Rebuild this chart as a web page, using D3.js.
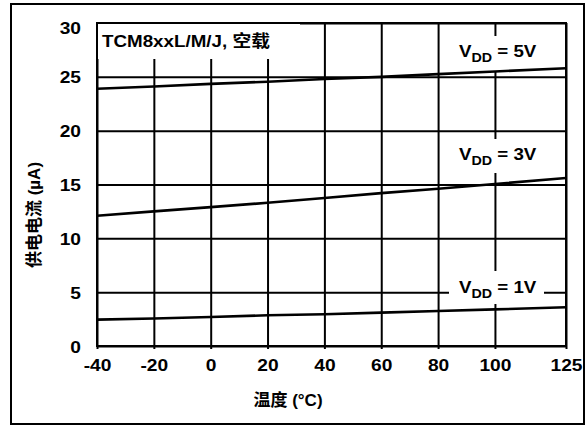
<!DOCTYPE html>
<html><head><meta charset="utf-8">
<script src="https://cdn.jsdelivr.net/npm/d3@7"></script>
<style>
html,body{margin:0;padding:0;background:#fff;}
text{font-family:"Liberation Sans",Arial,"Noto Sans CJK SC",sans-serif;font-weight:bold;fill:#000;}
</style></head>
<body>
<svg id="c" width="588" height="426"></svg>
<script>
const temps = [-40, -20, 0, 20, 40, 60, 80, 100, 125];
const xTickLabels = ["-40", "-20", "0", "20", "40", "60", "80", "100", "125"];
const yTicks = [0, 5, 10, 15, 20, 25, 30];
const vdd5 = [23.9, 24.1, 24.35, 24.55, 24.8, 25.0, 25.25, 25.5, 25.8];
const vdd3 = [12.1, 12.5, 12.9, 13.3, 13.75, 14.2, 14.6, 15.05, 15.6];
const vdd1 = [2.45, 2.55, 2.7, 2.85, 2.95, 3.1, 3.25, 3.4, 3.6];
const seriesLabels = ["5V", "3V", "1V"];
const title = "TCM8xxL/M/J, 空载";
const xTitle = "温度 (°C)";
const yTitle = "供电电流 (µA)";

const svg = d3.select("#c");
const L = 97, R = 566, T = 23, B = 346;
const SX = 1.13;
const x = d3.scaleLinear().domain([-40, 125]).range([L, R]);
const y = d3.scaleLinear().domain([0, 30]).range([B, T]);

// outer frame
svg.append("rect").attr("x", 11).attr("y", 4).attr("width", 573).attr("height", 420)
  .attr("fill", "none").attr("stroke", "#000").attr("stroke-width", 2);

// grid via axes
const gx = svg.append("g").attr("transform", `translate(0,${B})`)
  .call(d3.axisBottom(x).tickValues(temps).tickSize(-(B - T)).tickSizeOuter(0).tickFormat((d, i) => xTickLabels[i]).tickPadding(12));
gx.select(".domain").remove();
gx.selectAll(".tick line").attr("stroke", "#000").attr("stroke-width", 2).attr("y2", -(B - T)).attr("y1", 3);
gx.selectAll(".tick text").attr("font-size", 17).attr("fill", "#000").attr("dy", "0.75em")
  .attr("transform", `scale(${SX},1)`);

const gy = svg.append("g").attr("transform", `translate(${L},0)`)
  .call(d3.axisLeft(y).tickValues(yTicks).tickSize(-(R - L)).tickSizeOuter(0).tickPadding(16));
gy.select(".domain").remove();
gy.selectAll(".tick line").attr("stroke", "#000").attr("stroke-width", 2);
gy.selectAll(".tick text").attr("font-size", 17).attr("fill", "#000").attr("dy", "0.36em")
  .attr("x", -16 / SX).attr("transform", `scale(${SX},1)`);
gy.selectAll(".tick").filter(d => d === 30).select("text").attr("dy", "0.6em");

// white label boxes
const boxes = [[98, 24, 202, 35], [452, 36, 88, 35], [452, 139, 88, 34], [449, 271, 95, 33]];
svg.append("g").selectAll("rect").data(boxes).join("rect")
  .attr("x", d => d[0]).attr("y", d => d[1]).attr("width", d => d[2]).attr("height", d => d[3])
  .attr("fill", "#fff");

// curves
const line = d3.line().x((d, i) => x(temps[i])).y(d => y(d));
[vdd5, vdd3, vdd1].forEach(s => {
  svg.append("path").datum(s).attr("d", line).attr("fill", "none")
    .attr("stroke", "#000").attr("stroke-width", 2.6);
});

// plot border
svg.append("rect").attr("x", L).attr("y", T).attr("width", R - L).attr("height", B - T)
  .attr("fill", "none").attr("stroke", "#000").attr("stroke-width", 2);

// title
svg.append("text").attr("x", 102).attr("y", 47).attr("font-size", 16.5)
  .attr("textLength", 168).attr("lengthAdjust", "spacingAndGlyphs").text(title);

// VDD labels
const labelY = [57, 160, 293];
seriesLabels.forEach((lab, i) => {
  const t = svg.append("text").attr("transform", `translate(459,${labelY[i]}) scale(1.1,1)`)
    .attr("font-size", 17);
  t.append("tspan").text("V");
  t.append("tspan").attr("font-size", 13).attr("dy", 5).text("DD");
  t.append("tspan").attr("dy", -5).text(" = " + lab);
});

// axis titles
svg.append("text").attr("x", 288).attr("y", 400).attr("dy", "0.35em").attr("text-anchor", "middle")
  .attr("font-size", 17).text(xTitle);
svg.append("text").attr("transform", "translate(34,215) rotate(-90)").attr("dy", "0.35em")
  .attr("text-anchor", "middle").attr("font-size", 17).text(yTitle);
</script>
</body></html>
